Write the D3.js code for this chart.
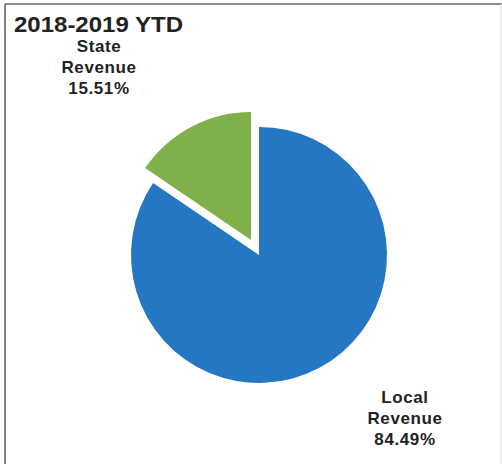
<!DOCTYPE html>
<html><head><meta charset="utf-8">
<script src="https://cdn.jsdelivr.net/npm/d3@7"></script>
<style>body{margin:0;background:#fff}svg{display:block}</style>
</head><body>
<svg id="c" width="502" height="464"></svg>
<script>
const title = "2018-2019 YTD";
const categories = ["Local Revenue", "State Revenue"];
const labelLines = [["Local", "Revenue", "84.49%"], ["State", "Revenue", "15.51%"]];
const values = [84.49, 15.51];
const colors = ["#2577c3", "#80b04a"];

const svg = d3.select("#c");
// frame
svg.append("line").attr("x1", 5).attr("y1", 4).attr("x2", 5).attr("y2", 464).attr("stroke", "#666").attr("stroke-width", 1.6);
svg.append("line").attr("x1", 5).attr("y1", 4).attr("x2", 502).attr("y2", 4).attr("stroke", "#666").attr("stroke-width", 1.6);
svg.append("line").attr("x1", 501).attr("y1", 4).attr("x2", 501).attr("y2", 464).attr("stroke", "#ddd").attr("stroke-width", 1);

svg.append("text").attr("x", 14).attr("y", 32).text(title)
  .attr("font-family", "Liberation Sans, Arial, sans-serif").attr("font-weight", "bold")
  .attr("font-size", 22).attr("fill", "#222").attr("textLength", 169).attr("lengthAdjust", "spacingAndGlyphs");

const cx = 259, cy = 255, r = 128, explode = 17;
const data = categories.map((c, i) => ({cat: c, value: values[i], color: colors[i], lines: labelLines[i]}));
const pie = d3.pie().value(d => d.value).sort(null).startAngle(0).endAngle(2 * Math.PI);
const arcs = pie(data);
const arc = d3.arc().innerRadius(0).outerRadius(r);
const g = svg.append("g").attr("transform", `translate(${cx},${cy})`);
g.selectAll("path").data(arcs).enter().append("path")
  .attr("d", arc)
  .attr("fill", d => d.data.color)
  .attr("transform", (d, i) => {
    if (i !== 1) return null;
    const m = (d.startAngle + d.endAngle) / 2;
    return `translate(${explode * Math.sin(m)},${-explode * Math.cos(m)})`;
  });

const labelPos = [[405, 403], [99, 52]];
data.forEach((d, i) => {
  const t = svg.append("text").attr("text-anchor", "middle")
    .attr("font-family", "Liberation Sans, Arial, sans-serif").attr("font-weight", "bold")
    .attr("font-size", 17).attr("letter-spacing", 0.6).attr("fill", "#222");
  d.lines.forEach((ln, j) => {
    t.append("tspan").attr("x", labelPos[i][0]).attr("y", labelPos[i][1] + j * 21).text(ln);
  });
});
</script>
</body></html>
